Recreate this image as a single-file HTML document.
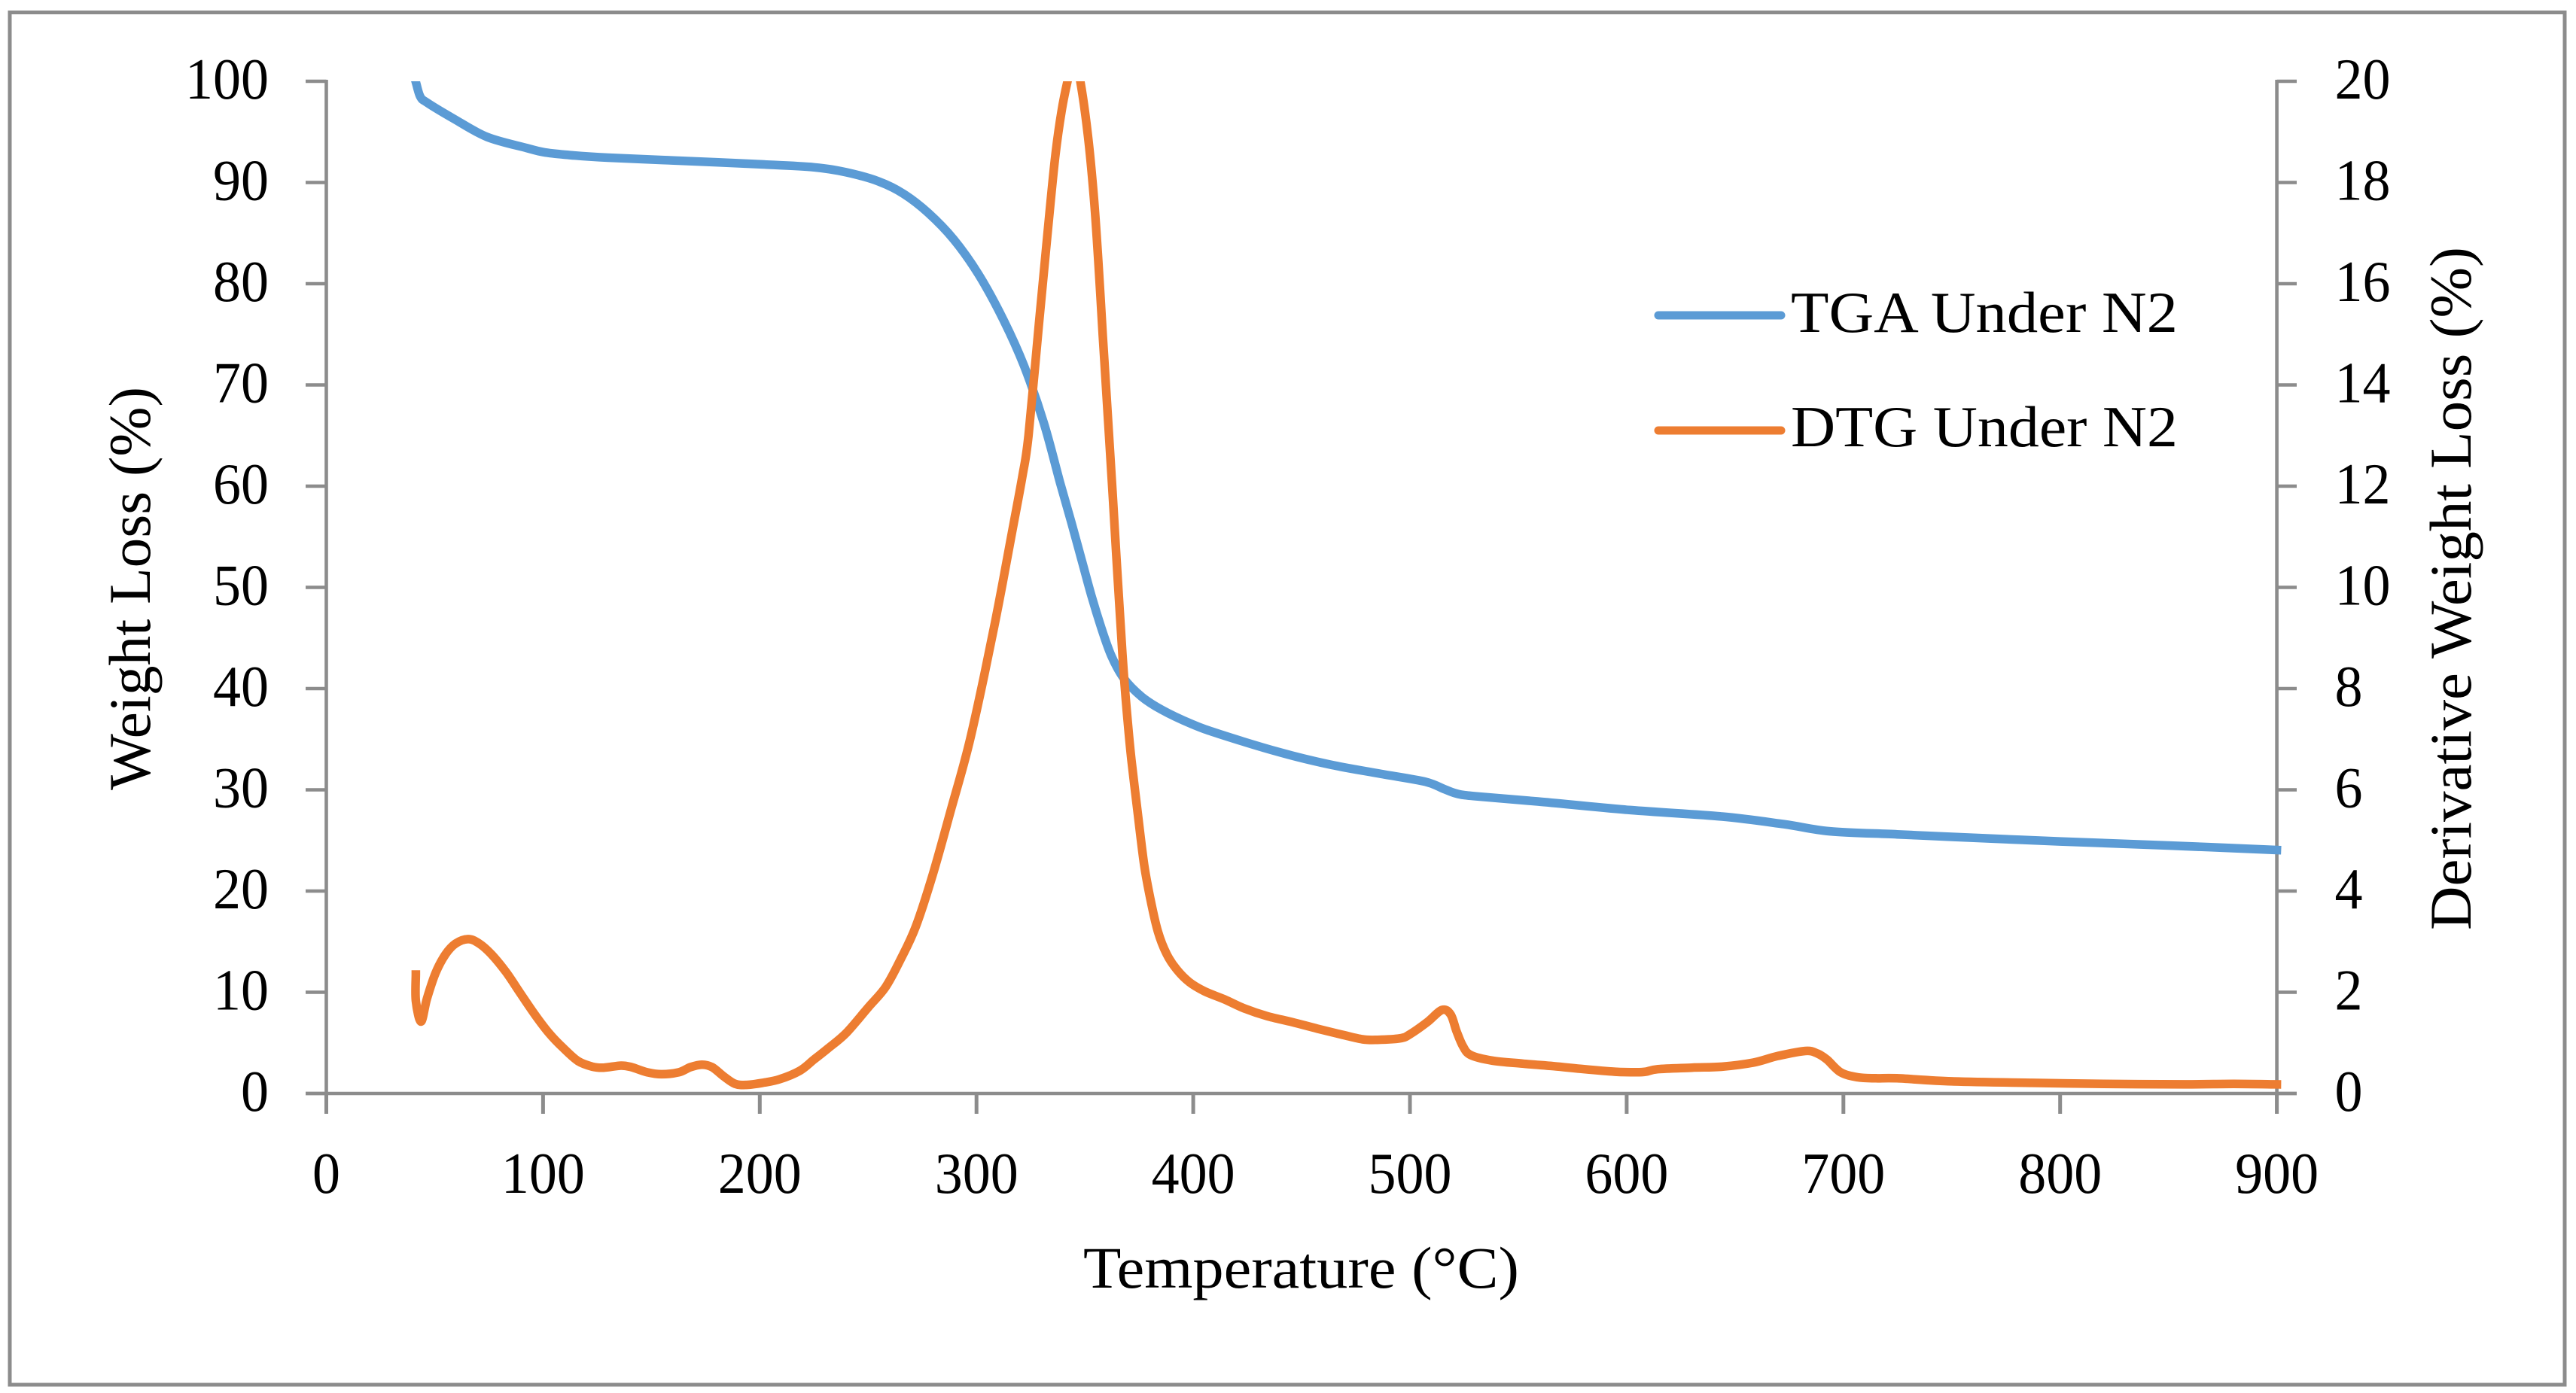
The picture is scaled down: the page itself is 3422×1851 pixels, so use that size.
<!DOCTYPE html>
<html lang="en">
<head>
<meta charset="utf-8">
<title>TGA and DTG Under N2</title>
<style>
html,body{margin:0;padding:0;background:#fff;width:3422px;height:1851px;overflow:hidden}
svg{display:block}
text{font-family:"Liberation Serif",serif;fill:#000}
</style>
</head>
<body>
<svg id="chart" xmlns="http://www.w3.org/2000/svg" width="3422" height="1851" viewBox="0 0 3422 1851">
  <rect x="13" y="16.5" width="3394" height="1823.5" fill="#fff" stroke="#8c8c8c" stroke-width="5"/>
  <defs>
    <clipPath id="plot-clip"><rect x="380" y="108" width="2700" height="1345"/></clipPath>
  </defs>
  <g id="axes"></g>
  <g id="series" clip-path="url(#plot-clip)"></g>
  <text transform="translate(199,1050) rotate(-90)" font-size="78" textLength="536" lengthAdjust="spacingAndGlyphs">Weight Loss (%)</text>
  <text x="1439" y="1711" font-size="78" textLength="579" lengthAdjust="spacingAndGlyphs">Temperature (°C)</text>
  <text transform="translate(3282,1236) rotate(-90)" font-size="78" textLength="908" lengthAdjust="spacingAndGlyphs">Derivative Weight Loss (%)</text>
  <g>
    <line x1="2203" y1="419" x2="2366" y2="419" stroke="#5b9bd5" stroke-width="11" stroke-linecap="round"/>
    <text x="2379" y="441" font-size="77" textLength="514" lengthAdjust="spacingAndGlyphs">TGA Under N2</text>
    <line x1="2203" y1="572" x2="2366" y2="572" stroke="#ed7d31" stroke-width="11" stroke-linecap="round"/>
    <text x="2379" y="593" font-size="77" textLength="514" lengthAdjust="spacingAndGlyphs">DTG Under N2</text>
  </g>
</svg>
<script>
const xTicks = [0, 100, 200, 300, 400, 500, 600, 700, 800, 900];
const weightTicks = [0, 10, 20, 30, 40, 50, 60, 70, 80, 90, 100];
const rateTicks = [0, 2, 4, 6, 8, 10, 12, 14, 16, 18, 20];

const tgaTemp = [41.4, 43.3, 46.4, 58.8, 74.2, 92.6, 100, 110, 130, 180, 200, 225, 240, 255, 266.2, 277.7, 289.4, 301, 312.5, 321.9, 331, 338.5, 343.8, 348.4, 353, 357.6, 362.3, 368, 376.2, 385.5, 399.3, 412.2, 440, 463, 486, 507, 516, 522, 530.8, 559, 601.7, 644, 672.7, 693.8, 724.8, 750, 800, 850, 900];
const tgaWeight = [99.85, 98.5, 97.9, 96.3, 94.5, 93.4, 93, 92.75, 92.45, 92, 91.8, 91.5, 91, 90.1, 88.9, 87, 84.4, 80.9, 76.4, 71.9, 66.3, 60.4, 56.4, 52.8, 49.2, 46, 43.2, 41, 39.2, 37.9, 36.5, 35.5, 33.7, 32.5, 31.6, 30.8, 30.05, 29.6, 29.35, 28.85, 28, 27.36, 26.6, 25.9, 25.6, 25.35, 24.9, 24.5, 24.05];

const dtgTemp = [41.3, 41.3, 43.7, 46.4, 50.4, 55, 59.6, 65.4, 70.3, 76.2, 82.9, 89.5, 96.2, 102.8, 109.5, 116.2, 122.8, 128, 136, 140.8, 148, 154.7, 162.7, 168, 173.3, 178, 183.3, 188.6, 193.9, 201.2, 209, 218.5, 225, 231.5, 240, 250, 258, 265, 272, 280, 288.5, 296.4, 303.9, 310.2, 316, 321.2, 324, 328.8, 332.8, 336.3, 339.2, 342, 345, 347.9, 351.4, 354.2, 356.2, 358.3, 360, 362.9, 364.6, 366.4, 367.9, 369.8, 371.5, 374.5, 377.4, 380.2, 383.7, 387.8, 392.4, 398.2, 405.2, 414.4, 423.6, 434, 445.7, 457.3, 468.8, 478.1, 485, 495.5, 500, 508, 514.8, 518.8, 521.5, 524.4, 528, 537.9, 552, 566.2, 580.4, 594.6, 604.6, 608.8, 614.4, 630, 644, 658.4, 669.7, 682.5, 688, 692.4, 698.7, 706.6, 715, 724.8, 750, 787, 820, 857.6, 880, 900];
const dtgRate = [2.35, 1.83, 1.42, 1.87, 2.38, 2.75, 2.96, 3.05, 2.97, 2.75, 2.4, 1.98, 1.56, 1.19, 0.89, 0.64, 0.53, 0.51, 0.55, 0.52, 0.42, 0.38, 0.42, 0.52, 0.57, 0.52, 0.34, 0.19, 0.17, 0.21, 0.28, 0.45, 0.67, 0.89, 1.2, 1.7, 2.1, 2.65, 3.3, 4.35, 5.65, 6.88, 8.33, 9.67, 11, 12.2, 13, 15.2, 17, 18.5, 19.4, 20, 20.5, 20, 18.93, 17.69, 16.45, 14.96, 13.8, 11.79, 10.56, 9.31, 8.33, 7.33, 6.59, 5.5, 4.51, 3.85, 3.2, 2.75, 2.45, 2.2, 2.02, 1.86, 1.68, 1.53, 1.41, 1.28, 1.16, 1.07, 1.06, 1.09, 1.17, 1.41, 1.65, 1.56, 1.23, 0.94, 0.76, 0.65, 0.59, 0.54, 0.48, 0.43, 0.42, 0.43, 0.48, 0.51, 0.53, 0.61, 0.74, 0.84, 0.79, 0.67, 0.42, 0.32, 0.3, 0.3, 0.24, 0.21, 0.19, 0.18, 0.19, 0.18];

const SVG_NS = 'http://www.w3.org/2000/svg';
const AXIS_COLOR = '#8c8c8c';
const X_ZERO = 433.5, X_END = 3024.6, Y_ZERO = 1453, Y_TOP = 108;
const DIGIT_WIDTH = 37;

function xScale(t) { return X_ZERO + (t / 900) * (X_END - X_ZERO); }
function yWeight(w) { return Y_ZERO - (w / 100) * (Y_ZERO - Y_TOP); }
function yRate(d) { return Y_ZERO - (d / 20) * (Y_ZERO - Y_TOP); }

function makeLine(x1, y1, x2, y2, width) {
  const el = document.createElementNS(SVG_NS, 'line');
  el.setAttribute('x1', x1);
  el.setAttribute('y1', y1);
  el.setAttribute('x2', x2);
  el.setAttribute('y2', y2);
  el.setAttribute('stroke', AXIS_COLOR);
  el.setAttribute('stroke-width', width);
  return el;
}

function makeLabel(value, x, y, anchor) {
  const el = document.createElementNS(SVG_NS, 'text');
  const s = String(value);
  el.setAttribute('x', x);
  el.setAttribute('y', y);
  el.setAttribute('font-size', '77');
  el.setAttribute('text-anchor', anchor);
  el.setAttribute('textLength', s.length * DIGIT_WIDTH);
  el.setAttribute('lengthAdjust', 'spacingAndGlyphs');
  el.textContent = s;
  return el;
}

const axes = document.getElementById('axes');
const series = document.getElementById('series');

const leftAxis = makeLine(X_ZERO, Y_TOP - 2, X_ZERO, 1480, 4.6);


axes.appendChild(leftAxis);

const rightAxis = makeLine(X_END, Y_TOP - 2, X_END, 1480, 4.6);


axes.appendChild(rightAxis);

const bottomAxis = makeLine(406, Y_ZERO, 3051, Y_ZERO, 4.6);


axes.appendChild(bottomAxis);

xTicks.forEach(function (t) {
  const tick = makeLine(xScale(t), Y_ZERO, xScale(t), 1480, 5);
  
  
  axes.appendChild(tick);
  const label = makeLabel(t, xScale(t), 1585, 'middle');
  
  
  axes.appendChild(label);
});

weightTicks.forEach(function (w) {
  const tick = makeLine(406, yWeight(w), X_ZERO, yWeight(w), 4.4);
  
  
  axes.appendChild(tick);
  const label = makeLabel(w, 357, yWeight(w) + 23, 'end');
  
  
  axes.appendChild(label);
});

rateTicks.forEach(function (d) {
  const tick = makeLine(X_END, yRate(d), 3051, yRate(d), 4.4);
  
  
  axes.appendChild(tick);
  const label = makeLabel(d, 3101.5, yRate(d) + 23, 'start');
  
  
  axes.appendChild(label);
});

function smoothPath(xs, ys, yFn) {
  const pts = xs.map(function (t, i) {
    return [xScale(t), yFn(ys[i])];
  });
  let d = 'M' + pts[0][0].toFixed(1) + ' ' + pts[0][1].toFixed(1);
  for (let i = 0; i < pts.length - 1; i++) {
    const p0 = pts[Math.max(i - 1, 0)];
    const p1 = pts[i];
    const p2 = pts[i + 1];
    const p3 = pts[Math.min(i + 2, pts.length - 1)];
    const c1x = p1[0] + (p2[0] - p0[0]) / 6;
    const c1y = p1[1] + (p2[1] - p0[1]) / 6;
    const c2x = p2[0] - (p3[0] - p1[0]) / 6;
    const c2y = p2[1] - (p3[1] - p1[1]) / 6;
    d += 'C' + c1x.toFixed(1) + ' ' + c1y.toFixed(1) + ' ' + c2x.toFixed(1) + ' ' + c2y.toFixed(1) + ' ' + p2[0].toFixed(1) + ' ' + p2[1].toFixed(1);
  }
  return d;
}

function makeSeries(xs, ys, yFn, color) {
  const el = document.createElementNS(SVG_NS, 'path');
  el.setAttribute('d', smoothPath(xs, ys, yFn));
  el.setAttribute('fill', 'none');
  el.setAttribute('stroke', color);
  el.setAttribute('stroke-width', '11.5');
  el.setAttribute('stroke-linejoin', 'round');
  el.setAttribute('stroke-linecap', 'square');
  return el;
}

const tgaLine = makeSeries(tgaTemp, tgaWeight, yWeight, '#5b9bd5');


series.appendChild(tgaLine);

const dtgLine = makeSeries(dtgTemp, dtgRate, yRate, '#ed7d31');


series.appendChild(dtgLine);
</script>
</body>
</html>
